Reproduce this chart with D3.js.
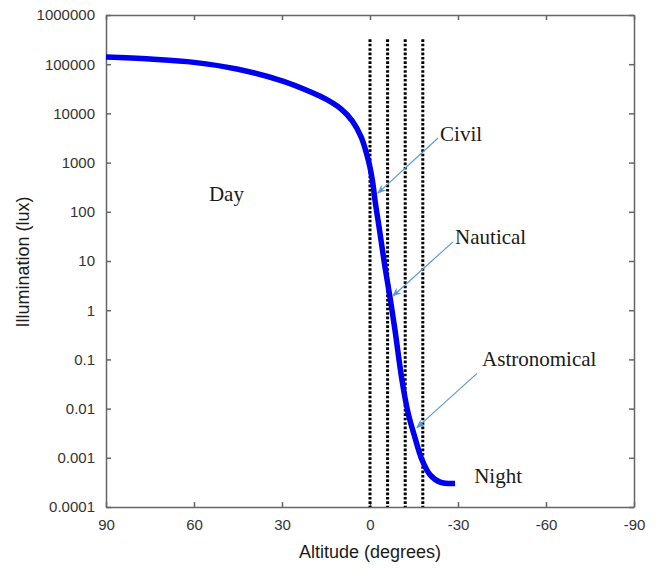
<!DOCTYPE html>
<html>
<head>
<meta charset="utf-8">
<script src="https://cdn.jsdelivr.net/npm/d3@7"></script>
<style>
  body { margin: 0; background: #fff; }
  .tick text { font-family: "Liberation Sans", Arial, sans-serif; font-size: 15px; fill: #333; }
  .annot { font-family: "Liberation Serif", "Times New Roman", serif; font-size: 21px; fill: #1a1a1a; }
  .axlabel { font-family: "Liberation Sans", Arial, sans-serif; font-size: 18px; fill: #1a1a1a; }
</style>
</head>
<body>
<div id="chart"></div>
<script>
// sun altitude (degrees) vs illumination (lux)
var altitude = [90, 75, 60, 45, 30, 20, 15, 10, 6, 3, 1, 0, -1, -1.7, -3.4, -5.1, -6.8, -8.5, -10.9, -13, -15.3, -17.7, -20.5, -23.9, -29];
var lux = [140000, 127000, 109000, 79000, 46000, 27000, 19500, 12500, 7000, 3300, 1400, 800, 370, 173, 37, 7.6, 1.86, 0.4, 0.038, 0.0081, 0.0026, 0.00092, 0.00045, 0.00032, 0.0003];

// twilight boundaries
var twilight = [0, -6, -12, -18];

var xTicks = [90, 60, 30, 0, -30, -60, -90];
var yTicks = [0.0001, 0.001, 0.01, 0.1, 1, 10, 100, 1000, 10000, 100000, 1000000];
var yTickLabels = ["0.0001", "0.001", "0.01", "0.1", "1", "10", "100", "1000", "10000", "100000", "1000000"];

// annotations: label, text position, arrow start, arrow tip (altitude, lux)
var labels = ["Day", "Civil", "Nautical", "Astronomical", "Night"];
var labelPos = [[54.9, 166], [-23.9, 2750], [-29, 22.4], [-38.2, 0.074], [-35.5, 0.00031]];
var arrowFrom = [null, [-23.2, 3160], [-28.3, 24.5], [-36.5, 0.052], null];
var arrowTo = [null, [-2.7, 240], [-7.8, 1.95], [-16.0, 0.0041], null];

var svgWidth = 657, svgHeight = 572;
var margin = { top: 15, right: 23, bottom: 65, left: 106 };
var chartWidth = svgWidth - margin.left - margin.right;
var chartHeight = svgHeight - margin.top - margin.bottom;

var svg = d3.select("#chart").append("svg")
  .attr("width", svgWidth)
  .attr("height", svgHeight);

var chartGroup = svg.append("g")
  .attr("transform", `translate(${margin.left}, ${margin.top})`);

var xScale = d3.scaleLinear().domain([90, -90]).range([0, chartWidth]);
var yScale = d3.scaleLog().domain([0.0001, 1000000]).range([chartHeight, 0]);

var axisColor = "#666";

// axes, ticks inward on all four sides
var bottomAxis = chartGroup.append("g")
  .attr("transform", `translate(0, ${chartHeight})`)
  .call(d3.axisBottom(xScale).tickValues(xTicks).tickSizeInner(-5).tickSizeOuter(0).tickPadding(12)
    .tickFormat(d => String(d)));
var topAxis = chartGroup.append("g")
  .call(d3.axisTop(xScale).tickValues(xTicks).tickSizeInner(-5).tickSizeOuter(0).tickFormat(""));
var leftAxis = chartGroup.append("g")
  .call(d3.axisLeft(yScale).tickValues(yTicks).tickSizeInner(-5).tickSizeOuter(0).tickPadding(11)
    .tickFormat((d, i) => yTickLabels[i]));
var rightAxis = chartGroup.append("g")
  .attr("transform", `translate(${chartWidth}, 0)`)
  .call(d3.axisRight(yScale).tickValues(yTicks).tickSizeInner(-5).tickSizeOuter(0).tickFormat(""));

[bottomAxis, topAxis, leftAxis, rightAxis].forEach(function(ax) {
  ax.select(".domain").attr("stroke", axisColor).attr("stroke-width", 1.5);
  ax.selectAll(".tick line").attr("stroke", axisColor).attr("stroke-width", 1.5);
});

// twilight boundary dotted lines
chartGroup.selectAll(".twilight")
  .data(twilight)
  .enter().append("line")
  .attr("class", "twilight")
  .attr("x1", d => xScale(d))
  .attr("x2", d => xScale(d))
  .attr("y1", yScale(320000))
  .attr("y2", chartHeight)
  .attr("stroke", "#000")
  .attr("stroke-width", 3)
  .attr("stroke-dasharray", "2.6,1.8");

// illumination curve
var curveData = altitude.map((a, i) => ({ alt: a, lux: lux[i] }));
var line = d3.line()
  .x(d => xScale(d.alt))
  .y(d => yScale(d.lux))
  .curve(d3.curveCatmullRom.alpha(0.5));

chartGroup.append("path")
  .datum(curveData)
  .attr("d", line)
  .attr("fill", "none")
  .attr("stroke", "#0000f0")
  .attr("stroke-width", 5.5)
  .attr("stroke-linecap", "butt");

// arrow marker
svg.append("defs").append("marker")
  .attr("id", "arrowhead")
  .attr("viewBox", "0 0 10 10")
  .attr("refX", 9).attr("refY", 5)
  .attr("markerWidth", 9).attr("markerHeight", 9)
  .attr("markerUnits", "userSpaceOnUse")
  .attr("orient", "auto")
  .append("path")
  .attr("d", "M0,1 L10,5 L0,9 L3,5 Z")
  .attr("fill", "#5b9bd5");

labels.forEach(function(lab, i) {
  chartGroup.append("text")
    .attr("class", "annot")
    .attr("x", xScale(labelPos[i][0]))
    .attr("y", yScale(labelPos[i][1]))
    .text(lab);
  if (arrowFrom[i]) {
    chartGroup.append("line")
      .attr("x1", xScale(arrowFrom[i][0]))
      .attr("y1", yScale(arrowFrom[i][1]))
      .attr("x2", xScale(arrowTo[i][0]))
      .attr("y2", yScale(arrowTo[i][1]))
      .attr("stroke", "#5b9bd5")
      .attr("stroke-width", 1.2)
      .attr("marker-end", "url(#arrowhead)");
  }
});

// axis labels
chartGroup.append("text")
  .attr("class", "axlabel")
  .attr("text-anchor", "middle")
  .attr("x", chartWidth / 2)
  .attr("y", chartHeight + 51)
  .text("Altitude (degrees)");

chartGroup.append("text")
  .attr("class", "axlabel")
  .attr("text-anchor", "middle")
  .attr("transform", "rotate(-90)")
  .attr("x", -247)
  .attr("y", -77)
  .text("Illumination (lux)");
</script>
</body>
</html>
